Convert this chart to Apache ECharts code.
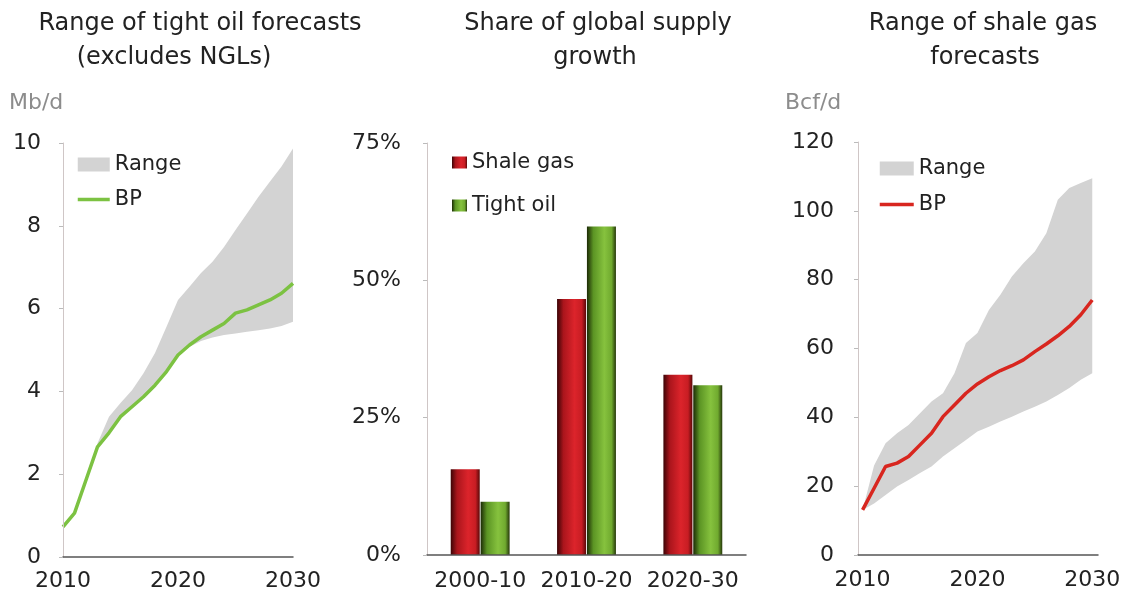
<!DOCTYPE html>
<html>
<head>
<meta charset="utf-8">
<script src="https://cdn.jsdelivr.net/npm/echarts@6/dist/echarts.min.js"></script>
<style>html,body{margin:0;padding:0;background:#fff}#c{width:1124px;height:599px}</style>
</head>
<body>
<div id="c"></div>
<script>
// ---- Data ----
const years = [2010,2011,2012,2013,2014,2015,2016,2017,2018,2019,2020,2021,2022,2023,2024,2025,2026,2027,2028,2029,2030];

// Tight oil (Mb/d)
const oilBP    = [0.73,1.06,1.86,2.66,3.0,3.39,3.63,3.87,4.15,4.48,4.88,5.12,5.32,5.48,5.64,5.89,5.97,6.09,6.21,6.37,6.61];
const oilUpper = [null,null,null,2.75,3.39,3.72,4.03,4.44,4.93,5.56,6.21,6.53,6.86,7.13,7.49,7.90,8.30,8.70,9.07,9.43,9.87];
const oilLower = [null,null,null,2.66,3.0,3.39,3.63,3.87,4.15,4.48,4.88,5.08,5.22,5.30,5.36,5.40,5.44,5.48,5.52,5.58,5.68];

// Share of global supply growth (%)
const periods   = ['2000-10','2010-20','2020-30'];
const shareGas  = [15.6,46.6,32.8];
const shareOil  = [9.7,59.8,30.9];

// Shale gas (Bcf/d)
const gasBP    = [13.1,19.4,25.7,26.7,28.6,32.0,35.4,40.2,43.6,47.0,49.7,51.8,53.6,55.0,56.7,59.1,61.3,63.7,66.4,69.8,74.1];
const gasUpper = [13.1,26.0,32.5,35.4,37.8,41.2,44.6,47.0,52.8,61.6,64.5,71.2,75.6,80.9,84.8,88.2,93.5,103.2,106.6,108.1,109.5];
const gasLower = [13.1,15.0,17.4,19.9,21.8,23.8,25.7,28.6,31.0,33.4,35.9,37.3,38.8,40.2,41.7,43.1,44.6,46.5,48.5,50.9,52.8];

const xTickLabels = [2010,2020,2030];

// ---- helpers ----
const pairs = (vals) => years.map((y,i) => [y, vals[i]]);
const bandData = (up, lo) => years.map((y,i) => [y, up[i], lo[i]]).filter(d => d[1] != null && d[2] != null);

const FONT = 'DejaVu Sans';
const rangeColor = '#d3d3d3';
const txt = '#222';

const axisLabelStyle = {fontFamily: FONT, fontSize: 22, color: txt};

function barGrad(c0, c1, c2, c3, c4){
  return {type:'linear', x:0, y:0, x2:1, y2:0, colorStops:[
    {offset:0, color:c0},{offset:0.22, color:c1},{offset:0.6, color:c2},{offset:0.85, color:c3},{offset:1, color:c4}]};
}
const redGrad = barGrad('#3c0406','#aa151c','#dc242b','#c81d23','#5a0808');
const greenGrad = barGrad('#1c2a06','#5b9424','#86c23e','#70aa2f','#26380a');

const titleFont = '24px "DejaVu Sans"';
const unitFont = '22px "DejaVu Sans"';
const legendText = {fontFamily:FONT, fontSize:21, color:txt, lineHeight:20};

// Band (range) drawn as one polygon through the axis scales
function bandSeries(name, xi, data){
  return {
    name, type:'custom', xAxisIndex:xi, yAxisIndex:xi, data, silent:true, z:1,
    itemStyle:{color:rangeColor}, encode:{x:0, y:[1,2]},
    renderItem: function(params, api){
      if (params.dataIndex !== 0) return null;
      const pts = [];
      for (let i = 0; i < data.length; i++) pts.push(api.coord([data[i][0], data[i][1]]));
      for (let i = data.length - 1; i >= 0; i--) pts.push(api.coord([data[i][0], data[i][2]]));
      return {type:'polygon', shape:{points:pts}, style:{fill:rangeColor}};
    }
  };
}

const option = {
  animation: false,
  backgroundColor: '#fff',
  textStyle: {fontFamily: FONT},
  graphic: [
    {type:'text', x:200, y:24, style:{text:'Range of tight oil forecasts', textAlign:'center', textVerticalAlign:'middle', font:titleFont, fill:txt}},
    {type:'text', x:174, y:58, style:{text:'(excludes NGLs)', textAlign:'center', textVerticalAlign:'middle', font:titleFont, fill:txt}},
    {type:'text', x:598, y:24, style:{text:'Share of global supply', textAlign:'center', textVerticalAlign:'middle', font:titleFont, fill:txt}},
    {type:'text', x:595, y:58, style:{text:'growth', textAlign:'center', textVerticalAlign:'middle', font:titleFont, fill:txt}},
    {type:'text', x:983, y:24, style:{text:'Range of shale gas', textAlign:'center', textVerticalAlign:'middle', font:titleFont, fill:txt}},
    {type:'text', x:985, y:58, style:{text:'forecasts', textAlign:'center', textVerticalAlign:'middle', font:titleFont, fill:txt}},
    {type:'text', x:9, y:103, style:{text:'Mb/d', textAlign:'left', textVerticalAlign:'middle', font:unitFont, fill:'#8c8c8c'}},
    {type:'text', x:785, y:103, style:{text:'Bcf/d', textAlign:'left', textVerticalAlign:'middle', font:unitFont, fill:'#8c8c8c'}}
  ],
  legend: [
    {orient:'vertical', left:76, top:154, padding:0, itemWidth:32, itemHeight:14, itemGap:14, textStyle:legendText, itemTextGap:5, selectedMode:false,
     data:[{name:'Range', icon:'rect', itemStyle:{color:rangeColor}},
           {name:'BP', itemStyle:{opacity:0}, lineStyle:{width:3.5}}]},
    {orient:'vertical', left:452, top:152, padding:0, itemWidth:15, itemHeight:12, itemGap:22, textStyle:legendText, itemTextGap:6, selectedMode:false,
     data:[{name:'Shale gas', icon:'rect'}, {name:'Tight oil', icon:'rect'}]},
    {orient:'vertical', left:878, top:158, padding:0, itemWidth:34, itemHeight:14, itemGap:15, textStyle:legendText, itemTextGap:5, selectedMode:false,
     data:[{name:'Range ', icon:'rect', itemStyle:{color:rangeColor}},
           {name:'BP ', itemStyle:{opacity:0}, lineStyle:{width:3.5}}]}
  ],
  grid: [
    {left:63, top:143, width:230, height:414},
    {left:427, top:143, width:319, height:412},
    {left:858, top:142, width:240, height:413}
  ],
  xAxis: [
    {gridIndex:0, type:'value', min:2010, max:2030, z:10,
     axisLine:{lineStyle:{color:'#555', width:1.5}}, axisTick:{show:false}, splitLine:{show:false},
     axisLabel:{...axisLabelStyle, margin:13, customValues:xTickLabels, formatter:(v)=>String(v)}},
    {gridIndex:1, type:'category', data:periods, boundaryGap:true, z:10,
     axisLine:{lineStyle:{color:'#555', width:1.5}}, axisTick:{show:false},
     axisLabel:{...axisLabelStyle, margin:15, interval:0, hideOverlap:false}},
    {gridIndex:2, type:'value', min:2009.6, max:2030.5, z:10,
     axisLine:{lineStyle:{color:'#555', width:1.5}}, axisTick:{show:false}, splitLine:{show:false},
     axisLabel:{...axisLabelStyle, margin:14, customValues:xTickLabels, formatter:(v)=>String(v)}}
  ],
  yAxis: [
    {gridIndex:0, type:'value', min:0, max:10, interval:2, z:10,
     axisLine:{show:true, lineStyle:{color:'#cfc6c6'}}, axisTick:{show:true, length:4, lineStyle:{color:'#bbb'}}, splitLine:{show:false},
     axisLabel:{...axisLabelStyle, margin:22}},
    {gridIndex:1, type:'value', min:0, max:75, interval:25, z:10,
     axisLine:{show:true, lineStyle:{color:'#cfc6c6'}}, axisTick:{show:true, length:4, lineStyle:{color:'#bbb'}}, splitLine:{show:false},
     axisLabel:{...axisLabelStyle, margin:26, formatter:'{value}%'}},
    {gridIndex:2, type:'value', min:0, max:120, interval:20, z:10,
     axisLine:{show:true, lineStyle:{color:'#cfc6c6'}}, axisTick:{show:true, length:4, lineStyle:{color:'#bbb'}}, splitLine:{show:false},
     axisLabel:{...axisLabelStyle, margin:24}}
  ],
  series: [
    bandSeries('Range', 0, bandData(oilUpper, oilLower)),
    {name:'BP', type:'line', xAxisIndex:0, yAxisIndex:0, data:pairs(oilBP), symbol:'none', color:'#7cc242', lineStyle:{color:'#7cc242', width:3.5}, z:3},
    {name:'Shale gas', type:'bar', xAxisIndex:1, yAxisIndex:1, data:shareGas, barWidth:29, barGap:'3%', itemStyle:{color:redGrad}},
    {name:'Tight oil', type:'bar', xAxisIndex:1, yAxisIndex:1, data:shareOil, barWidth:29, barGap:'3%', itemStyle:{color:greenGrad}},
    bandSeries('Range ', 2, bandData(gasUpper, gasLower)),
    {name:'BP ', type:'line', xAxisIndex:2, yAxisIndex:2, data:pairs(gasBP), symbol:'none', color:'#d8261f', lineStyle:{color:'#d8261f', width:3.5}, z:3}
  ]
};

const chart = echarts.init(document.getElementById('c'), null, {renderer:'canvas'});
chart.setOption(option);
</script>
</body>
</html>
